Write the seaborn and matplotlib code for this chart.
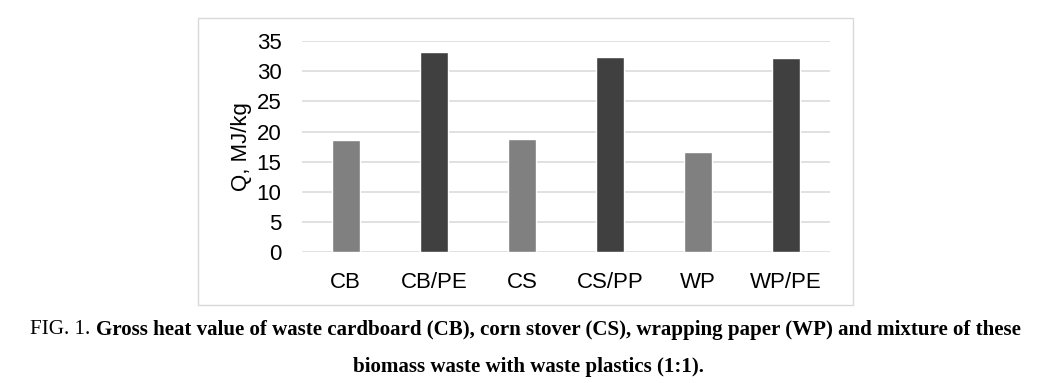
import matplotlib
matplotlib.use("Agg")
import matplotlib.pyplot as plt
import seaborn as sns
import pandas as pd
from matplotlib.patches import Rectangle

categories = ["CB", "CB/PE", "CS", "CS/PP", "WP", "WP/PE"]
values = [18.6, 33.1, 18.8, 32.3, 16.6, 32.2]
bar_colors = ["#808080", "#404040", "#808080", "#404040", "#808080", "#404040"]
y_ticks = [0, 5, 10, 15, 20, 25, 30, 35]
y_label = "Q, MJ/kg"
caption_prefix = "FIG. 1. "
caption_line1 = "Gross heat value of waste cardboard (CB), corn stover (CS), wrapping paper (WP) and mixture of these"
caption_line2 = "biomass waste with waste plastics (1:1)."

sns.set_theme(style="white")
plt.rcParams["font.family"] = ["Liberation Sans", "DejaVu Sans"]

W, H = 1049, 383
fig = plt.figure(figsize=(W / 100, H / 100), dpi=100)
fig.patch.set_facecolor("white")

ax_left, ax_right, ax_top, ax_bottom = 301.7, 830.0, 41.0, 252.3
ax = fig.add_axes([ax_left / W, 1 - ax_bottom / H, (ax_right - ax_left) / W, (ax_bottom - ax_top) / H])

df = pd.DataFrame({"cat": categories, "val": values})
sns.barplot(data=df, x="cat", y="val", hue="cat", palette=bar_colors,
            width=0.315, legend=False, ax=ax, saturation=1, zorder=3)

ax.set_ylim(0, 35)
ax.set_xlim(-0.5, len(categories) - 0.5)
ax.set_yticks(y_ticks)
ax.yaxis.grid(True, color="#d9d9d9", linewidth=1.1, zorder=0)
ax.set_axisbelow(True)
for s in ax.spines.values():
    s.set_visible(False)
ax.tick_params(axis="both", length=0, labelsize=16, colors="black")
ax.tick_params(axis="y", pad=14.5)
ax.tick_params(axis="x", pad=14)
ax.set_xlabel("")
ax.set_ylabel(y_label, fontsize=16, color="black")
ax.yaxis.set_label_coords((241 - ax_left) / (ax_right - ax_left), 0.5)
ax.yaxis.label.set_va("center")
ax.set_facecolor("white")

# outer chart border
bx0, by0, bx1, by1 = 198, 18, 852.7, 304.7
fig.add_artist(Rectangle((bx0 / W, 1 - by1 / H), (bx1 - bx0) / W, (by1 - by0) / H,
                         transform=fig.transFigure, fill=False,
                         edgecolor="#d9d9d9", linewidth=1.0))

# caption
serif = ["Liberation Serif", "DejaVu Serif"]
fs = 13
t1 = fig.text(30 / W, 1 - 330 / H, caption_prefix, ha="left", va="center",
              fontsize=fs, family=serif, color="black")
t2 = fig.text(0, 1 - 330 / H, caption_line1, ha="left", va="center",
              fontsize=fs, family=serif, weight="bold", color="black")
fig.canvas.draw()
r = fig.canvas.get_renderer()
w1 = t1.get_window_extent(r).width
w2 = t2.get_window_extent(r).width
scale = (1021 - 30) / (w1 + w2)
fs2 = fs * scale
t1.set_fontsize(fs2)
t2.set_fontsize(fs2)
fig.canvas.draw()
w1 = t1.get_window_extent(r).width
t2.set_x((30 + w1) / W)
fig.text(528 / W, 1 - 367 / H, caption_line2, ha="center", va="center",
         fontsize=fs2, family=serif, weight="bold", color="black")

fig.savefig("out.png", dpi=100, facecolor="white")
